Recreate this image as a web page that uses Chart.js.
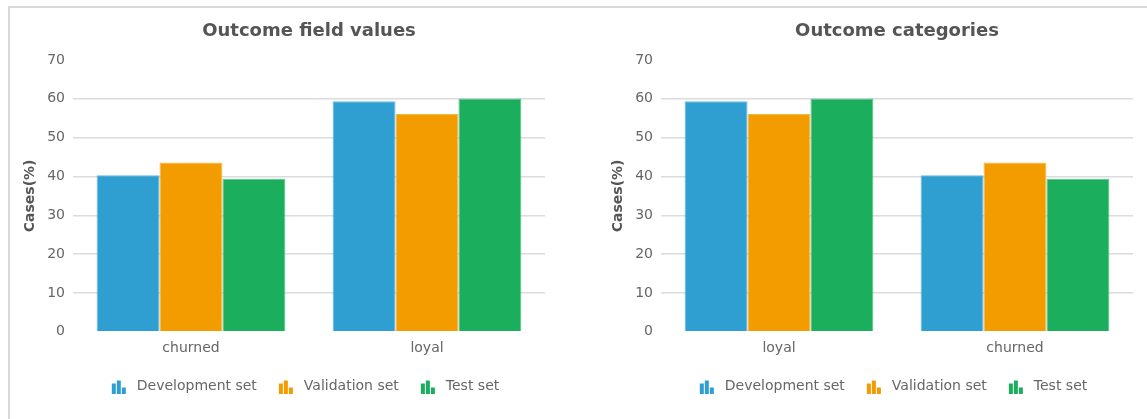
<!DOCTYPE html>
<html><head><meta charset="utf-8">
<script src="https://cdn.jsdelivr.net/npm/chart.js@4"></script>
<style>
html,body{margin:0;padding:0;background:#fff;overflow:hidden;width:1147px;height:419px;}
#frame{position:absolute;left:8px;top:6px;width:1200px;height:500px;border:2px solid #dadada;box-sizing:border-box;}
.box{position:absolute;top:8px;height:411px;}
#b1{left:10px;width:588px;}
#b2{left:598px;width:549px;}
</style></head><body>
<div id="frame"></div>
<div class="box" id="b1"><canvas id="c1"></canvas></div>
<div class="box" id="b2"><canvas id="c2"></canvas></div>
<script>
// ---- data ----
const seriesNames = ['Development set', 'Validation set', 'Test set'];
const seriesColors = ['#2e9fd0', '#f39c00', '#1bae5c'];
const seriesBorders = ['#62b8de', '#f6b443', '#55c48a'];

const fieldTitle = 'Outcome field values';
const fieldCategories = ['churned', 'loyal'];
const devField = [40.3, 59.4];
const valField = [43.6, 56.1];
const testField = [39.4, 60.1];

const outcomeTitle = 'Outcome categories';
const outcomeCategories = ['loyal', 'churned'];
const devOutcome = [59.4, 40.3];
const valOutcome = [56.1, 43.6];
const testOutcome = [60.1, 39.4];

const yTicks = [0, 10, 20, 30, 40, 50, 60, 70];
const yTitle = 'Cases(%)';

// ---- styling ----
Chart.defaults.font.family = "'DejaVu Sans', Verdana, sans-serif";
Chart.defaults.color = '#666';

function makeIcon(color) {
  const c = document.createElement('canvas');
  c.width = 40; c.height = 14;
  const g = c.getContext('2d');
  g.fillStyle = color;
  const ox = 17;
  g.fillRect(ox, 4, 4, 10);
  g.fillRect(ox + 5, 1, 4, 13);
  g.fillRect(ox + 10, 8, 4, 6);
  return c;
}
const icons = seriesColors.map(makeIcon);

const LEGEND_SHIFT = -9.5;
const centerOnArea = {
  id: 'centerOnArea',
  afterLayout(chart) {
    const a = chart.chartArea;
    const t = chart.titleBlock;
    if (t) { t.left = a.left; t.right = a.right; t.width = a.right - a.left; }
    const l = chart.legend;
    if (l) { l.left = a.left + LEGEND_SHIFT; l.right = a.right + LEGEND_SHIFT; l.width = a.right - a.left; }
  }
};

function build(canvasId, title, categories, series, padRight) {
  const datasets = series.map((vals, i) => ({
    label: seriesNames[i],
    data: vals,
    backgroundColor: seriesColors[i],
    borderColor: seriesBorders[i],
    borderWidth: 1,
    barPercentage: 1.0,
    categoryPercentage: 0.8
  }));
  return new Chart(document.getElementById(canvasId), {
    type: 'bar',
    data: { labels: categories, datasets },
    plugins: [centerOnArea],
    options: {
      responsive: true,
      maintainAspectRatio: false,
      animation: false,
      layout: { padding: { left: 0, right: padRight, top: 0, bottom: 15.5 } },
      plugins: {
        title: {
          display: true, text: title, color: '#555',
          font: { size: 18, weight: 'bold', lineHeight: 1.2 },
          padding: { top: 12.7, bottom: 17.7 }
        },
        legend: {
          position: 'bottom',
          labels: {
            usePointStyle: true,
            pointStyleWidth: 30,
            padding: 10,
            color: '#666',
            font: { size: 14 },
            generateLabels(chart) {
              const items = Chart.defaults.plugins.legend.labels.generateLabels(chart);
              items.forEach((it, i) => { it.pointStyle = icons[i]; });
              return items;
            }
          }
        },
        tooltip: { enabled: false }
      },
      scales: {
        x: {
          grid: { display: false, drawTicks: false },
          border: { display: false },
          ticks: { color: '#666', font: { size: 14, lineHeight: 1.2 }, padding: 8.5 },
          afterFit(s) { s.height += 4; }
        },
        y: {
          min: yTicks[0], max: yTicks[yTicks.length - 1],
          grid: {
            drawTicks: false,
            lineWidth: 1.5,
            color: (ctx) => (ctx.tick && (ctx.tick.value === yTicks[0] || ctx.tick.value === yTicks[yTicks.length - 1])) ? 'rgba(0,0,0,0)' : '#dcdcdc'
          },
          border: { display: false },
          ticks: { stepSize: yTicks[1] - yTicks[0], color: '#666', font: { size: 14 }, padding: 8 },
          title: {
            display: true, text: yTitle, color: '#555',
            font: { size: 14, weight: 'bold', lineHeight: 1.2 },
            padding: { top: 11.6, bottom: 0 }
          },
          afterFit(s) { s.width = 63; }
        }
      }
    }
  });
}

build('c1', fieldTitle, fieldCategories, [devField, valField, testField], 53);
build('c2', outcomeTitle, outcomeCategories, [devOutcome, valOutcome, testOutcome], 14);
</script>
</body></html>
